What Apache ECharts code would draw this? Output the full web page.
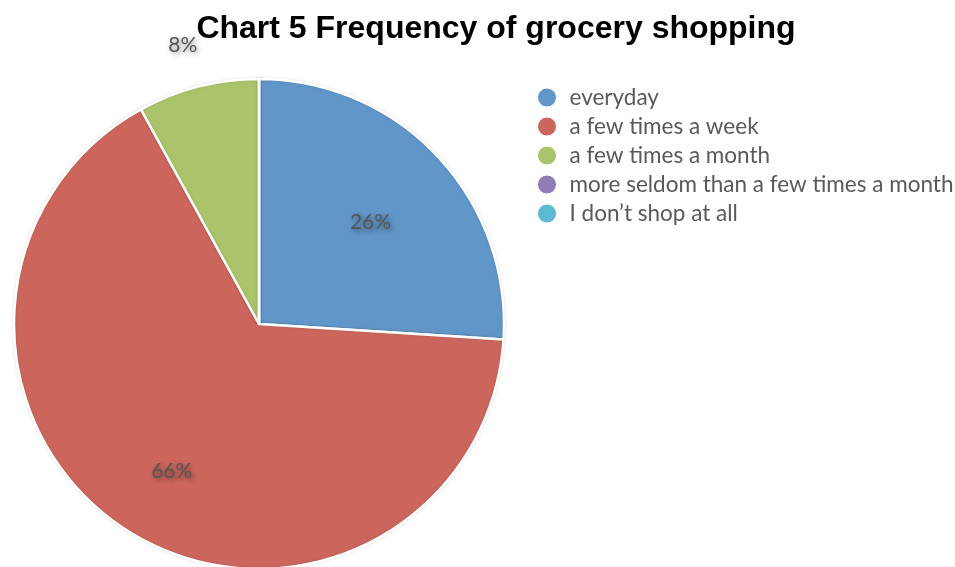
<!DOCTYPE html>
<html>
<head>
<meta charset="utf-8">
<style>
  html, body { margin: 0; padding: 0; background: #ffffff; }
  #chart { width: 955px; height: 567px; }
</style>
<script src="https://cdn.jsdelivr.net/npm/echarts@6/dist/echarts.min.js"></script>
</head>
<body>
<div id="chart"></div>
<script>
// Survey answers: how often respondents shop for groceries (percent)
const categories = [
  'everyday',
  'a few times a week',
  'a few times a month',
  'more seldom than a few times a month',
  'I don\u2019t shop at all'
];
const shares = [26, 66, 8, 0, 0];
const sliceColors = ['#6196c9', '#cc665d', '#abc46b', '#8f7bb5', '#5bb9d1'];

// Nudges that move each percentage label from its default inside spot
const labelNudge = [
  { dx: 20, dy: -16 },
  { dx: -20, dy: 41 },
  { dx: -45, dy: -157 },
  { dx: 0, dy: 0 },
  { dx: 0, dy: 0 }
];

const chart = echarts.init(document.getElementById('chart'), null, { renderer: 'canvas' });

chart.setOption({
  animation: false,
  backgroundColor: '#ffffff',
  color: sliceColors,
  title: {
    text: 'Chart 5 Frequency of grocery shopping',
    left: 491,
    top: 8,
    textAlign: 'center',
    textStyle: {
      fontFamily: 'Liberation Sans, Arial, sans-serif',
      fontWeight: 'bold',
      fontSize: 32,
      color: '#000000'
    }
  },
  legend: {
    orient: 'vertical',
    left: 532,
    top: 81,
    icon: 'circle',
    itemWidth: 19,
    itemHeight: 19,
    itemGap: 6,
    itemStyle: { borderColor: '#ffffff', borderWidth: 1 },
    textStyle: {
      fontFamily: 'Lato, Open Sans, sans-serif',
      fontSize: 22.5,
      lineHeight: 19,
      color: '#595959',
      padding: [0, 0, 0, 8]
    },
    data: categories
  },
  series: [{
    type: 'pie',
    center: [259, 324],
    radius: 245,
    startAngle: 90,
    clockwise: true,
    avoidLabelOverlap: false,
    itemStyle: {
      borderColor: '#ffffff',
      borderWidth: 2.5,
      shadowColor: 'rgba(0,0,0,0.12)',
      shadowBlur: 3
    },
    label: {
      show: true,
      position: 'inside',
      formatter: p => (p.value > 0 ? p.value + '%' : ''),
      fontFamily: 'Lato, Open Sans, sans-serif',
      fontSize: 21,
      color: '#555555',
      textShadowColor: 'rgba(0,0,0,0.45)',
      textShadowBlur: 5,
      textShadowOffsetX: 2,
      textShadowOffsetY: 2
    },
    labelLine: { show: false },
    labelLayout: p => labelNudge[p.dataIndex],
    emphasis: { disabled: true },
    data: categories.map((name, i) => ({ name, value: shares[i] }))
  }]
});
</script>
</body>
</html>
